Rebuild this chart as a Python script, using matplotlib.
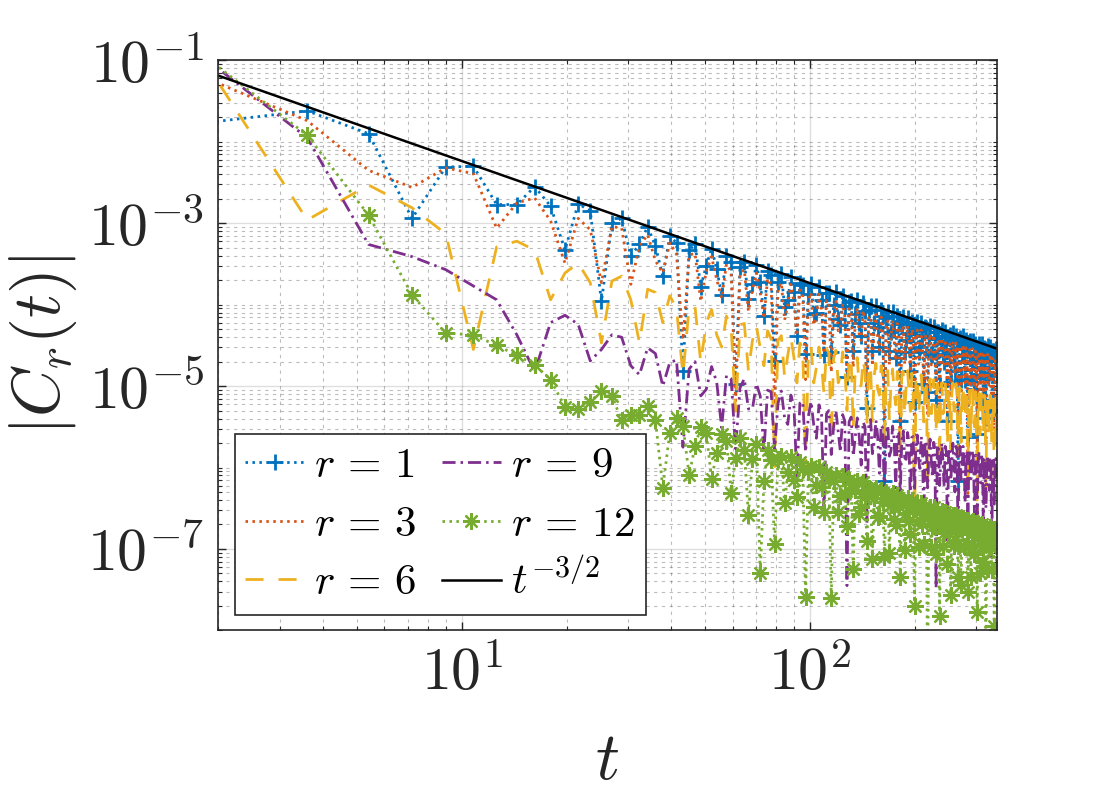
import numpy as np
import matplotlib.pyplot as plt
from matplotlib.ticker import LogLocator, NullFormatter

plt.rcParams['mathtext.fontset'] = 'cm'
plt.rcParams['font.family'] = ['DejaVu Sans']

dt = 1.8
n_samples = 191
t = dt * np.arange(1, n_samples + 1)

r1_log = [
    -1.77, -1.62, -1.90, -2.94, -2.31, -2.30, -2.77, -2.77, -2.55, -2.79,
    -3.33, -2.76, -2.85, -3.96, -3.00, -2.94, -3.40, -3.26, -3.04, -3.28,
    -3.65, -3.16, -3.24, -4.82, -3.33, -3.26, -3.78, -3.52, -3.31, -3.56,
    -3.88, -3.40, -3.48, -4.97, -3.54, -3.47, -3.93, -3.75, -3.51, -3.72,
    -4.14, -3.59, -3.64, -4.69, -3.72, -3.62, -4.03, -3.94, -3.66, -3.84,
    -4.38, -3.73, -3.76, -4.61, -3.87, -3.75, -4.11, -4.10, -3.78, -3.94,
    -4.62, -3.86, -3.86, -4.58, -4.00, -3.85, -4.17, -4.25, -3.89, -4.02,
    -4.89, -3.97, -3.95, -4.57, -4.12, -3.94, -4.23, -4.39, -3.98, -4.08,
    -5.27, -4.07, -4.02, -4.57, -4.23, -4.02, -4.27, -4.52, -4.06, -4.14,
    -6.16, -4.16, -4.09, -4.57, -4.33, -4.09, -4.31, -4.66, -4.14, -4.20,
    -5.43, -4.24, -4.15, -4.58, -4.43, -4.16, -4.35, -4.81, -4.21, -4.25,
    -5.19, -4.32, -4.21, -4.58, -4.52, -4.22, -4.38, -4.97, -4.28, -4.29,
    -5.07, -4.40, -4.26, -4.60, -4.62, -4.28, -4.42, -5.17, -4.34, -4.33,
    -4.99, -4.47, -4.31, -4.61, -4.71, -4.33, -4.44, -5.43, -4.40, -4.37,
    -4.95, -4.54, -4.35, -4.62, -4.81, -4.38, -4.47, -6.17, -4.46, -4.41,
    -4.92, -4.62, -4.39, -4.63, -4.92, -4.43, -4.50, -5.62, -4.52, -4.44,
    -4.90, -4.69, -4.44, -4.64, -5.03, -4.48, -4.52, -5.59, -4.58, -4.48,
    -4.88, -4.76, -4.48, -4.66, -5.17, -4.53, -4.55, -5.39, -4.63, -4.51,
    -4.87, -4.84, -4.52, -4.67, -5.32, -4.57, -4.57, -5.29, -4.69, -4.54,
    -4.86,
]

r3_log = [
    -1.20, -1.74, -2.35, -2.56, -2.32, -2.39, -3.06, -2.75, -2.69, -2.97,
    -3.49, -2.94, -3.08, -3.73, -3.04, -3.06, -3.75, -3.28, -3.14, -3.46,
    -3.61, -3.24, -3.38, -4.43, -3.39, -3.37, -3.96, -3.59, -3.41, -3.69,
    -3.92, -3.50, -3.60, -5.18, -3.62, -3.57, -4.08, -3.82, -3.61, -3.85,
    -4.17, -3.68, -3.76, -5.23, -3.80, -3.73, -4.19, -4.00, -3.75, -3.97,
    -4.38, -3.82, -3.87, -4.92, -3.95, -3.85, -4.25, -4.16, -3.87, -4.06,
    -4.60, -3.95, -3.98, -4.83, -4.08, -3.96, -4.32, -4.31, -3.99, -4.14,
    -4.82, -4.05, -4.06, -4.77, -4.19, -4.04, -4.36, -4.44, -4.07, -4.20,
    -5.08, -4.16, -4.14, -4.75, -4.30, -4.12, -4.41, -4.56, -4.15, -4.26,
    -5.45, -4.24, -4.20, -4.74, -4.39, -4.19, -4.45, -4.69, -4.23, -4.31,
    -6.32, -4.32, -4.26, -4.73, -4.49, -4.26, -4.48, -4.83, -4.30, -4.36,
    -5.60, -4.40, -4.31, -4.73, -4.59, -4.31, -4.51, -4.97, -4.37, -4.41,
    -5.34, -4.48, -4.36, -4.74, -4.67, -4.37, -4.53, -5.13, -4.43, -4.44,
    -5.22, -4.55, -4.41, -4.75, -4.76, -4.43, -4.56, -5.32, -4.49, -4.48,
    -5.14, -4.62, -4.45, -4.76, -4.86, -4.47, -4.59, -5.57, -4.55, -4.51,
    -5.10, -4.69, -4.49, -4.76, -4.96, -4.53, -4.61, -6.32, -4.60, -4.55,
    -5.06, -4.76, -4.54, -4.77, -5.06, -4.57, -4.64, -5.76, -4.66, -4.58,
    -5.04, -4.83, -4.57, -4.78, -5.17, -4.62, -4.66, -5.72, -4.72, -4.61,
    -5.01, -4.90, -4.61, -4.80, -5.30, -4.66, -4.69, -5.53, -4.77, -4.65,
    -5.00,
]

r6_log = [
    -0.97, -2.96, -2.53, -2.81, -3.13, -4.55, -3.29, -3.22, -3.33, -3.94,
    -3.61, -3.49, -3.73, -4.47, -3.71, -3.65, -3.94, -4.47, -3.81, -3.85,
    -4.22, -3.89, -4.05, -4.86, -4.03, -4.03, -4.71, -4.22, -4.06, -4.37,
    -4.52, -4.14, -4.27, -5.31, -4.25, -4.23, -4.81, -4.44, -4.26, -4.53,
    -4.75, -4.32, -4.42, -5.99, -4.44, -4.38, -4.89, -4.62, -4.40, -4.65,
    -4.96, -4.47, -4.54, -6.01, -4.58, -4.51, -4.96, -4.77, -4.52, -4.74,
    -5.10, -4.54, -4.59, -5.64, -4.66, -4.56, -4.96, -4.87, -4.58, -4.76,
    -5.30, -4.64, -4.67, -5.52, -4.77, -4.65, -5.01, -4.99, -4.67, -4.82,
    -5.50, -4.74, -4.75, -5.45, -4.87, -4.72, -5.04, -5.11, -4.75, -4.88,
    -5.76, -4.83, -4.81, -5.43, -4.97, -4.79, -5.08, -5.23, -4.82, -4.93,
    -6.06, -4.86, -4.82, -5.35, -5.01, -4.81, -5.06, -5.31, -4.84, -4.92,
    -6.94, -4.93, -4.87, -5.34, -5.10, -4.86, -5.09, -5.44, -4.91, -4.97,
    -6.20, -5.01, -4.91, -5.34, -5.19, -4.92, -5.11, -5.57, -4.97, -5.01,
    -5.94, -5.08, -4.96, -5.34, -5.27, -4.97, -5.13, -5.73, -5.03, -5.04,
    -5.77, -5.10, -4.96, -5.30, -5.31, -4.97, -5.11, -5.86, -5.04, -5.02,
    -5.69, -5.16, -4.99, -5.30, -5.40, -5.02, -5.13, -6.12, -5.09, -5.05,
    -5.64, -5.23, -5.04, -5.30, -5.50, -5.07, -5.15, -6.86, -5.14, -5.09,
    -5.60, -5.30, -5.07, -5.31, -5.60, -5.11, -5.18, -6.29, -5.20, -5.12,
    -5.57, -5.37, -5.11, -5.32, -5.71, -5.15, -5.20, -6.26, -5.25, -5.15,
    -5.55,
]

r9_log = [
    -0.95, -1.95, -3.26, -3.41, -3.57, -3.77, -3.94, -4.37, -4.82, -4.22,
    -4.13, -4.24, -4.69, -4.55, -4.37, -4.40, -4.75, -4.86, -4.53, -4.60,
    -5.00, -4.71, -4.68, -5.75, -4.79, -4.70, -5.12, -5.04, -4.76, -4.95,
    -5.51, -4.87, -4.91, -5.77, -5.02, -4.91, -5.28, -5.28, -4.97, -5.12,
    -5.81, -5.05, -5.07, -5.78, -5.21, -5.06, -5.39, -5.47, -5.11, -5.25,
    -6.13, -5.21, -5.19, -5.81, -5.37, -5.19, -5.48, -5.64, -5.23, -5.35,
    -6.54, -5.34, -5.30, -5.84, -5.50, -5.30, -5.56, -5.81, -5.35, -5.43,
    -7.45, -5.44, -5.38, -5.86, -5.62, -5.39, -5.62, -5.97, -5.44, -5.50,
    -6.69, -5.50, -5.41, -5.83, -5.69, -5.42, -5.62, -6.07, -5.48, -5.52,
    -6.46, -5.59, -5.48, -5.86, -5.79, -5.49, -5.66, -6.25, -5.56, -5.57,
    -6.35, -5.68, -5.55, -5.88, -5.90, -5.57, -5.70, -6.46, -5.63, -5.62,
    -6.29, -5.76, -5.60, -5.90, -6.01, -5.62, -5.74, -6.73, -5.70, -5.67,
    -6.25, -5.85, -5.65, -5.92, -6.12, -5.69, -5.77, -7.48, -5.76, -5.72,
    -6.22, -5.93, -5.70, -5.94, -6.23, -5.74, -5.81, -6.93, -5.83, -5.76,
    -6.16, -5.96, -5.70, -5.91, -6.30, -5.74, -5.79, -6.85, -5.85, -5.74,
    -6.15, -6.03, -5.74, -5.93, -6.43, -5.80, -5.82, -6.67, -5.91, -5.78,
    -6.14, -6.11, -5.79, -5.94, -6.59, -5.85, -5.85, -6.57, -5.97, -5.81,
    -6.14, -6.19, -5.83, -5.96, -6.79, -5.90, -5.88, -6.50, -6.03, -5.85,
    -6.13, -6.28, -5.87, -5.99, -7.10, -5.95, -5.91, -6.45, -6.09, -5.89,
    -6.14,
]

r12_log = [
    -0.93, -1.92, -2.90, -3.88, -4.35, -4.37, -4.50, -4.62, -4.74, -4.92,
    -5.26, -5.28, -5.19, -5.06, -5.12, -5.42, -5.36, -5.35, -5.25, -5.41,
    -6.25, -5.57, -5.39, -5.49, -6.09, -5.74, -5.50, -5.57, -6.14, -5.82,
    -5.59, -5.67, -6.31, -5.88, -5.64, -5.78, -6.58, -5.90, -5.71, -7.30,
    -6.17, -5.78, -5.91, -6.94, -5.89, -5.86, -6.44, -6.06, -5.87, -6.15,
    -6.36, -5.93, -6.02, -7.59, -6.04, -5.98, -6.48, -6.21, -5.99, -6.24,
    -6.55, -6.06, -6.13, -7.60, -6.16, -6.09, -6.54, -6.35, -6.10, -6.31,
    -6.72, -6.15, -6.20, -7.25, -6.27, -6.17, -6.57, -6.48, -6.18, -6.36,
    -6.90, -6.25, -6.28, -7.12, -6.37, -6.25, -6.61, -6.59, -6.27, -6.42,
    -7.10, -6.33, -6.34, -7.05, -6.46, -6.31, -6.63, -6.70, -6.34, -6.47,
    -7.34, -6.42, -6.40, -7.01, -6.56, -6.38, -6.66, -6.82, -6.40, -6.51,
    -7.70, -6.49, -6.45, -6.98, -6.64, -6.43, -6.69, -6.94, -6.47, -6.55,
    -8.56, -6.56, -6.49, -6.97, -6.72, -6.49, -6.71, -7.06, -6.53, -6.59,
    -7.82, -6.63, -6.53, -6.96, -6.81, -6.54, -6.73, -7.19, -6.59, -6.63,
    -7.56, -6.70, -6.58, -6.96, -6.89, -6.58, -6.75, -7.34, -6.65, -6.65,
    -7.44, -6.76, -6.62, -6.96, -6.97, -6.64, -6.77, -7.53, -6.70, -6.68,
    -7.35, -6.82, -6.66, -6.96, -7.06, -6.68, -6.79, -7.78, -6.75, -6.71,
    -7.30, -6.89, -6.69, -6.96, -7.16, -6.73, -6.81, -8.51, -6.80, -6.75,
    -7.25, -6.96, -6.73, -6.97, -7.26, -6.76, -6.84, -7.95, -6.85, -6.78,
    -7.23,
]

# reference slope t^(-3/2), two end points
ref_t = [2.0, 343.8]
ref_c = [6.5e-2, 2.89e-5]

## Figure
fig = plt.figure(figsize=(11, 8), dpi=100)
ax = fig.add_axes([0.1985, 0.212, 0.7075, 0.7125])

lw = 2.0
dotted = (0, (0.9, 1.6))
dashed = (0, (6.5, 5.4))
dashdot = (0, (4.7, 1.8, 0.9, 1.8))

ax.plot(t, 10.0 ** np.array(r1_log), color='#0072BD', ls=dotted, lw=lw,
        marker='+', ms=12, mew=2.0, label=r'$r\,=\,1$')
ax.plot(t, 10.0 ** np.array(r3_log), color='#D95319', ls=dotted, lw=lw,
        label=r'$r\,=\,3$')
ax.plot(t, 10.0 ** np.array(r6_log), color='#EDB120', ls=dashed, lw=lw,
        label=r'$r\,=\,6$')
ax.plot(t, 10.0 ** np.array(r9_log), color='#7E2F8E', ls=dashdot, lw=lw,
        label=r'$r\,=\,9$')
ax.plot(t, 10.0 ** np.array(r12_log), color='#77AC30', ls=dotted, lw=lw,
        marker=(8, 2, 0), ms=12, mew=1.6, label=r'$r\,=\,12$')
ax.plot(ref_t, ref_c, color='black', lw=1.8, label=r'$t^{-3/2}$')

ax.set_xscale('log')
ax.set_yscale('log')
ax.set_xlim(2, 343.8)
ax.set_ylim(1e-8, 1e-1)

ax.set_xticks([10, 100])
ax.set_xticklabels([r'$10^{1}$', r'$10^{2}$'])
ax.set_yticks([1e-7, 1e-5, 1e-3, 1e-1])
ax.set_yticklabels([r'$10^{-7}$', r'$10^{-5}$', r'$10^{-3}$', r'$10^{-1}$'])
ax.xaxis.set_minor_locator(LogLocator(base=10, subs=np.arange(2, 10), numticks=50))
ax.yaxis.set_minor_locator(LogLocator(base=10, subs=np.arange(1, 10), numticks=50))
ax.xaxis.set_minor_formatter(NullFormatter())
ax.yaxis.set_minor_formatter(NullFormatter())

ax.grid(True, which='major', color='#262626', alpha=0.15, lw=1.0, ls='-')
ax.grid(True, which='minor', color='#262626', alpha=0.3, lw=0.8, ls=(0, (3, 4)))

ax.tick_params(which='both', direction='in', top=True, right=True,
               colors='#262626', labelsize=43)
ax.tick_params(which='major', length=6, width=1.0, pad=10)
ax.tick_params(which='minor', length=3, width=0.8)
for sp in ax.spines.values():
    sp.set_color('#262626')
    sp.set_linewidth(1.2)

ax.set_xlabel(r'$t$', fontsize=48, color='#262626', labelpad=17)
ax.set_ylabel(r'$|C_r(t)|$', fontsize=48, color='#262626', labelpad=6)

leg = ax.legend(loc='lower left', bbox_to_anchor=(0.021, 0.027), borderaxespad=0,
                ncol=2, fontsize=31, handlelength=1.35, handletextpad=0.25,
                columnspacing=0.6, labelspacing=0.38, borderpad=0.25,
                fancybox=False, framealpha=1, edgecolor='#262626')
leg.get_frame().set_linewidth(1.2)

fig.savefig('out.png', dpi=100, facecolor='white')
